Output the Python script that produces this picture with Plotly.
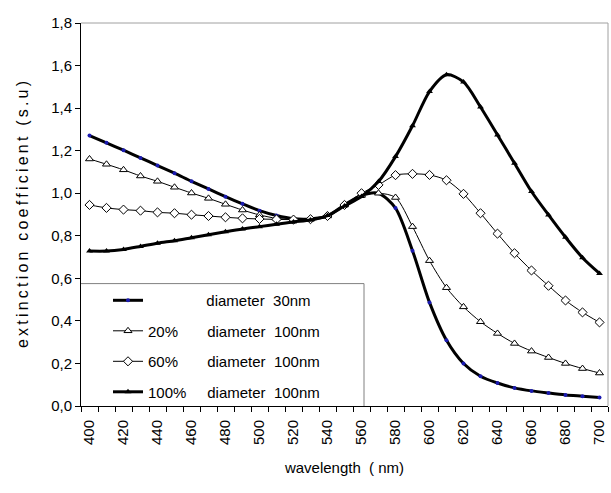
import plotly.graph_objects as go

wavelength = [400, 410, 420, 430, 440, 450, 460, 470, 480, 490, 500, 510, 520, 530, 540, 550,
              560, 570, 580, 590, 600, 610, 620, 630, 640, 650, 660, 670, 680, 690, 700]

d30 = [1.271, 1.237, 1.202, 1.166, 1.130, 1.094, 1.056, 1.020, 0.984, 0.950, 0.918, 0.895, 0.880,
       0.879, 0.893, 0.945, 0.990, 1.000, 0.930, 0.730, 0.487, 0.309, 0.200, 0.140, 0.108, 0.085,
       0.071, 0.061, 0.052, 0.046, 0.040]

p20 = [1.161, 1.136, 1.110, 1.081, 1.056, 1.028, 1.001, 0.976, 0.948, 0.921, 0.898, 0.882, 0.877,
       0.878, 0.893, 0.945, 0.990, 1.000, 0.980, 0.843, 0.683, 0.556, 0.466, 0.396, 0.341, 0.294,
       0.258, 0.228, 0.200, 0.176, 0.155]

p60 = [0.945, 0.931, 0.923, 0.918, 0.910, 0.906, 0.899, 0.893, 0.887, 0.882, 0.879, 0.877, 0.876,
       0.878, 0.893, 0.945, 1.000, 1.039, 1.085, 1.091, 1.086, 1.061, 0.997, 0.906, 0.810, 0.718,
       0.637, 0.565, 0.496, 0.440, 0.393]

p100 = [0.728, 0.728, 0.736, 0.750, 0.765, 0.777, 0.791, 0.805, 0.819, 0.832, 0.843, 0.854, 0.865,
        0.874, 0.895, 0.940, 0.985, 1.055, 1.172, 1.317, 1.478, 1.557, 1.523, 1.405, 1.274, 1.141,
        1.008, 0.898, 0.793, 0.697, 0.623]

NB = "\u00a0"
names = [
    NB * 14 + "diameter" + NB * 2 + "30nm",
    "20%" + NB * 7 + "diameter" + NB * 2 + "100nm",
    "60%" + NB * 7 + "diameter" + NB * 2 + "100nm",
    "100%" + NB * 5 + "diameter" + NB * 2 + "100nm",
]

FONT = "Liberation Sans, Arial, sans-serif"

fig = go.Figure()

fig.add_trace(go.Scatter(
    x=wavelength, y=d30, name=names[0], legendgroup="a",
    mode="lines+markers", line=dict(color="black", width=3, shape="spline", smoothing=0.8),
    marker=dict(color="#1a1ab0", size=4, symbol="circle"),
))
fig.add_trace(go.Scatter(
    x=wavelength, y=p20, name=names[1], legendgroup="b",
    mode="lines+markers", line=dict(color="black", width=1, shape="spline", smoothing=0.8),
    marker=dict(color="white", size=7, symbol="triangle-up", line=dict(color="black", width=1)),
))
fig.add_trace(go.Scatter(
    x=wavelength, y=p60, name=names[2], legendgroup="c",
    mode="lines+markers", line=dict(color="black", width=1, shape="spline", smoothing=0.8),
    marker=dict(color="white", size=7, symbol="diamond", line=dict(color="black", width=1)),
))
fig.add_trace(go.Scatter(
    x=wavelength, y=p100, name=names[3], legendgroup="d",
    mode="lines+markers", line=dict(color="black", width=3, shape="spline", smoothing=0.8),
    marker=dict(color="black", size=6, symbol="triangle-up"),
))

ytitle = "\u2009".join(list("extinction coefficient (s.u)"))

PH = 383.0
PW = 527.0
box_top = (405.7 - 283.3) / PH
box_right = (364 - 81) / PW

fig.update_layout(
    width=611, height=493,
    margin=dict(l=81, r=3, t=23, b=87, autoexpand=False),
    paper_bgcolor="white", plot_bgcolor="white",
    separators=",.",
    font=dict(family=FONT, size=15, color="black"),
    showlegend=True,
    legend=dict(
        x=(108 - 81) / PW, xanchor="left",
        y=(405.7 - 283.75) / PH, yanchor="top",
        bgcolor="rgba(0,0,0,0)", borderwidth=0,
        traceorder="grouped", tracegroupgap=8,
        font=dict(family=FONT, size=15, color="black"),
    ),
    xaxis=dict(
        range=[395, 705], tickmode="linear", tick0=400, dtick=20,
        ticks="", tickangle=-90, showgrid=False, zeroline=False, automargin=False,
        showline=True, linecolor="black", linewidth=1, ticklabelstandoff=7,
        tickfont=dict(family=FONT, size=15),
        minor=dict(ticks="outside", tick0=395, dtick=10, ticklen=5, tickcolor="black", showgrid=False),
        title=dict(text="wavelength" + NB * 2 + "(" + NB + "nm)", font=dict(family=FONT, size=15), standoff=18),
    ),
    yaxis=dict(
        range=[0, 1.8], tickmode="linear", tick0=0, dtick=0.2, tickformat=".1f",
        ticks="outside", ticklen=5, tickcolor="black", automargin=False,
        showgrid=False, zeroline=False,
        showline=True, linecolor="black", linewidth=1,
        tickfont=dict(family=FONT, size=15),
        title=dict(text=ytitle, font=dict(family=FONT, size=16), standoff=18),
    ),
    shapes=[
        dict(type="line", xref="paper", yref="paper", x0=0, x1=1, y0=1, y1=1,
             line=dict(color="#a0a0a0", width=1), layer="below"),
        dict(type="line", xref="paper", yref="paper", x0=1, x1=1, y0=0, y1=1,
             line=dict(color="#a0a0a0", width=1), layer="below"),
        dict(type="rect", xref="paper", yref="paper", x0=0.003, x1=box_right, y0=0.003,
             y1=box_top, fillcolor="white", line=dict(width=0), layer="above"),
        dict(type="line", xref="paper", yref="paper", x0=0, x1=box_right,
             y0=box_top, y1=box_top, line=dict(color="#808080", width=1), layer="above"),
        dict(type="line", xref="paper", yref="paper", x0=box_right, x1=box_right,
             y0=0, y1=box_top, line=dict(color="#808080", width=1), layer="above"),
    ],
)

fig.write_html(
    "out.html",
    config={"displayModeBar": False},
    post_script="document.body.style.margin='0';document.body.style.padding='0';",
)
